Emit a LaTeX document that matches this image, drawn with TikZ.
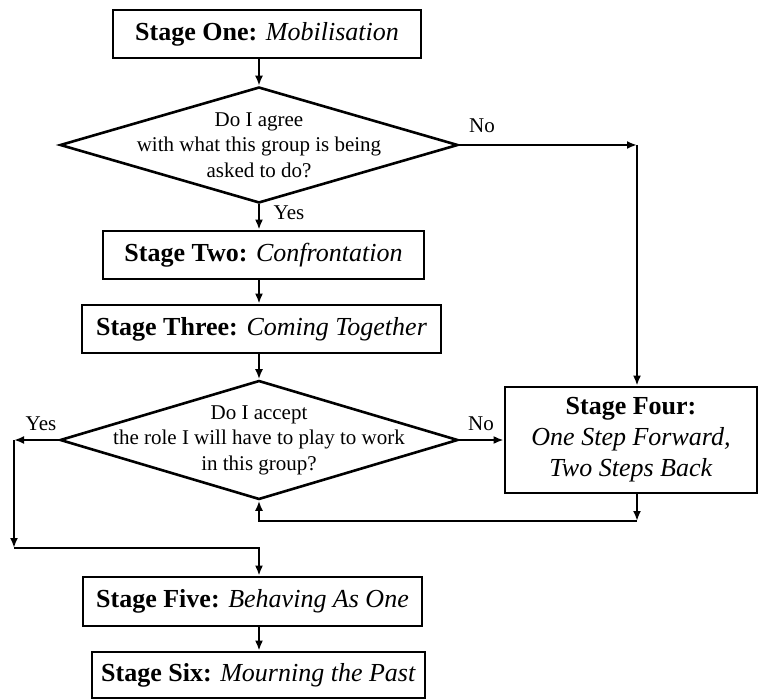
\documentclass[tikz,border=0pt]{standalone}
\usepackage{fontspec}
\setmainfont{Liberation Serif}
\usepackage{tikz}
\usetikzlibrary{shapes,arrows.meta}
\tikzstyle{stage_box} = [rectangle, draw, line width=2.8pt, inner sep=0pt, align=center, font=\fontsize{26}{31}\selectfont]
\tikzstyle{decision_node} = [diamond, draw, line width=2.6pt, inner sep=0pt]
\tikzstyle{decision_text} = [align=center, inner sep=0pt, font=\fontsize{21}{25.5}\selectfont]
\tikzstyle{edge_label} = [anchor=base, inner sep=0pt, font=\fontsize{21}{25}\selectfont]
\tikzstyle{edge_flow} = [line width=2.4pt, -{Latex[length=10pt,width=8pt]}]

\begin{document}
\begin{tikzpicture}[x=1pt, y=-1pt]
\useasboundingbox (0,0) rectangle (759,700);

\node (S1) at (267,34) [stage_box, minimum width=308pt, minimum height=48pt] {\textbf{Stage One:} \textit{Mobilisation}};
\node (D1) at (259,145) [decision_node, minimum width=398pt, minimum height=116pt] {};
\node (D1t) at (D1.center) [decision_text] {Do I agree\\with what this group is being\\asked to do?};
\node (S2) at (263.5,255) [stage_box, minimum width=321pt, minimum height=48pt] {\textbf{Stage Two:} \textit{Confrontation}};
\node (S3) at (261.5,329) [stage_box, minimum width=359pt, minimum height=48pt] {\textbf{Stage Three:} \textit{Coming Together}};
\node (D2) at (259,440) [decision_node, minimum width=398pt, minimum height=119pt] {};
\node (D2t) at (D2.center) [decision_text] {Do I accept\\the role I will have to play to work\\in this group?};
\node (S4) at (631,440) [stage_box, minimum width=252pt, minimum height=106pt] {\textbf{Stage Four:}\\\textit{One Step Forward,}\\\textit{Two Steps Back}};
\node (S5) at (252.5,601.5) [stage_box, minimum width=339pt, minimum height=49pt] {\textbf{Stage Five:} \textit{Behaving As One}};
\node (S6) at (258.5,675) [stage_box, minimum width=333pt, minimum height=46pt] {\textbf{Stage Six:} \textit{Mourning the Past}};

\node (noA) at (482,133) [edge_label] {No};
\node (yesA) at (289,220) [edge_label] {Yes};
\node (noB) at (481,430) [edge_label] {No};
\node (yesB) at (41,430) [edge_label] {Yes};

\coordinate (noTurn) at (637,145);
\coordinate (yesTurn) at (14,440);
\coordinate (yesLow) at (14,548);
\coordinate (joinLow) at (259,548);
\coordinate (backLow) at (637,521);

\draw[edge_flow] (D1.north |- S1.south) -- (D1.north);
\draw[edge_flow] (D1.south) -- (D1.south |- S2.north);
\draw[edge_flow] (D1.east) -- (noTurn);
\draw[edge_flow] (noTurn) -- (noTurn |- S4.north);
\draw[edge_flow] (D2.north |- S2.south) -- (D2.north |- S3.north);
\draw[edge_flow] (D2.north |- S3.south) -- (D2.north);
\draw[edge_flow] (D2.east) -- (S4.west);
\draw[edge_flow] (D2.west) -- (yesTurn);
\draw[edge_flow] (yesTurn) -- (yesLow);
\draw[edge_flow] (yesLow) -- (joinLow) -- (joinLow |- S5.north);
\draw[edge_flow] (backLow |- S4.south) -- (backLow);
\draw[edge_flow] (backLow) -- (D2.south |- backLow) -- (D2.south);
\draw[edge_flow] (D2.south |- S5.south) -- (D2.south |- S6.north);
\end{tikzpicture}
\end{document}
